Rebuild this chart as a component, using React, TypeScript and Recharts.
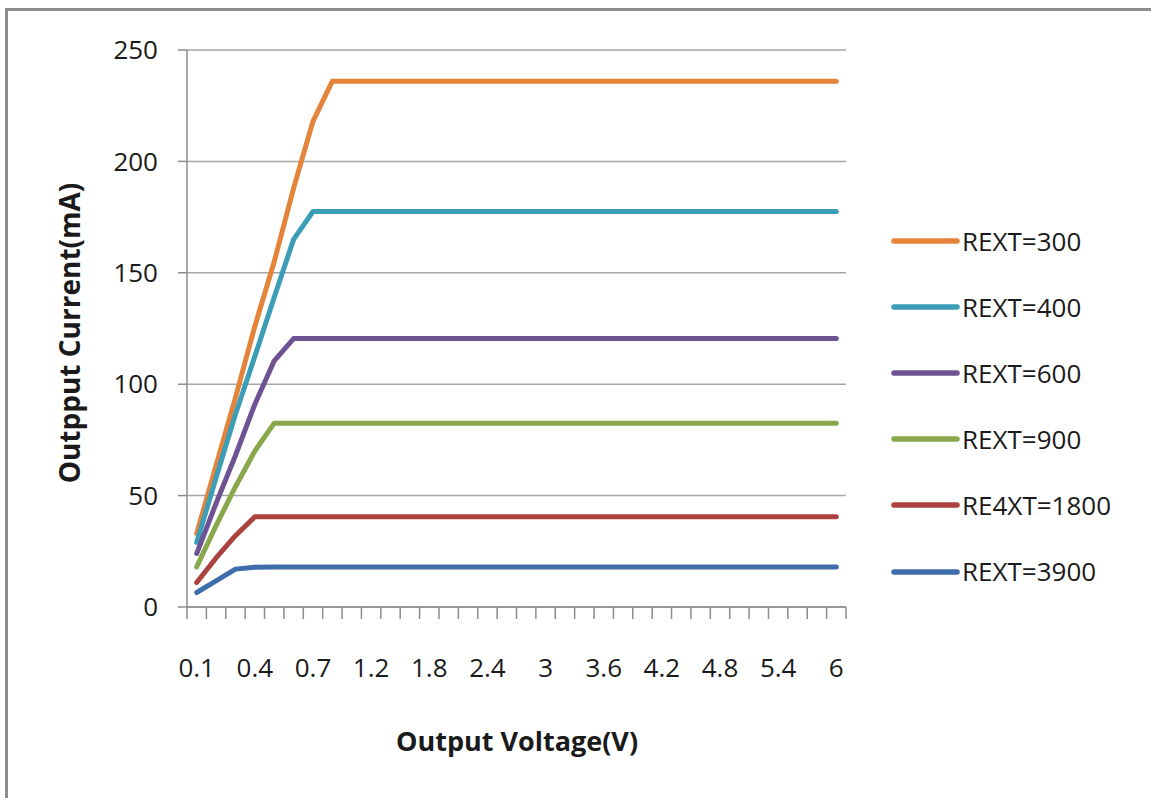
import { LineChart, Line, XAxis, YAxis, CartesianGrid } from "recharts";

// output voltage categories (V)
const categories = [
  "0.1", "0.2", "0.3", "0.4", "0.5", "0.6", "0.7", "0.8", "1", "1.2", "1.4", "1.6",
  "1.8", "2", "2.2", "2.4", "2.6", "2.8", "3", "3.2", "3.4", "3.6", "3.8", "4",
  "4.2", "4.4", "4.6", "4.8", "5", "5.2", "5.4", "5.6", "5.8", "6",
];

// output current (mA) per REXT
const rext300 = [
  33, 63.5, 94, 126, 155, 188, 218, 236, 236, 236, 236, 236,
  236, 236, 236, 236, 236, 236, 236, 236, 236, 236, 236, 236,
  236, 236, 236, 236, 236, 236, 236, 236, 236, 236,
];
const rext400 = [
  29, 58, 86.5, 112.5, 139, 165, 177.5, 177.5, 177.5, 177.5, 177.5, 177.5,
  177.5, 177.5, 177.5, 177.5, 177.5, 177.5, 177.5, 177.5, 177.5, 177.5, 177.5, 177.5,
  177.5, 177.5, 177.5, 177.5, 177.5, 177.5, 177.5, 177.5, 177.5, 177.5,
];
const rext600 = [
  24, 46.5, 68, 91, 110.5, 120.5, 120.5, 120.5, 120.5, 120.5, 120.5, 120.5,
  120.5, 120.5, 120.5, 120.5, 120.5, 120.5, 120.5, 120.5, 120.5, 120.5, 120.5, 120.5,
  120.5, 120.5, 120.5, 120.5, 120.5, 120.5, 120.5, 120.5, 120.5, 120.5,
];
const rext900 = [
  18, 36.5, 54, 70, 82.5, 82.5, 82.5, 82.5, 82.5, 82.5, 82.5, 82.5,
  82.5, 82.5, 82.5, 82.5, 82.5, 82.5, 82.5, 82.5, 82.5, 82.5, 82.5, 82.5,
  82.5, 82.5, 82.5, 82.5, 82.5, 82.5, 82.5, 82.5, 82.5, 82.5,
];
const rext1800 = [
  11, 22, 32, 40.5, 40.5, 40.5, 40.5, 40.5, 40.5, 40.5, 40.5, 40.5,
  40.5, 40.5, 40.5, 40.5, 40.5, 40.5, 40.5, 40.5, 40.5, 40.5, 40.5, 40.5,
  40.5, 40.5, 40.5, 40.5, 40.5, 40.5, 40.5, 40.5, 40.5, 40.5,
];
const rext3900 = [
  6.5, 11.7, 17, 17.8, 18, 18, 18, 18, 18, 18, 18, 18,
  18, 18, 18, 18, 18, 18, 18, 18, 18, 18, 18, 18,
  18, 18, 18, 18, 18, 18, 18, 18, 18, 18,
];

const seriesNames = ["REXT=300", "REXT=400", "REXT=600", "REXT=900", "RE4XT=1800", "REXT=3900"];
const seriesValues = [rext300, rext400, rext600, rext900, rext1800, rext3900];
const seriesColors = ["#E4843A", "#3C9DB6", "#6D5394", "#88A84B", "#AC423F", "#3F6DAB"];

const yTicks = [0, 50, 100, 150, 200, 250];
const labelEvery = 3;

const W = 1151;
const H = 798;
const PLOT_LEFT = 187;
const PLOT_RIGHT = 846;
const PLOT_TOP = 50;
const PLOT_BOTTOM = 607;
const STEP = (PLOT_RIGHT - PLOT_LEFT) / categories.length;
const FONT = "'Open Sans', sans-serif";
const AXIS_GRAY = "#8C8C8C";

const data = categories.map((c, i) => {
  const row: Record<string, string | number> = { v: c };
  seriesNames.forEach((n, k) => {
    row[n] = seriesValues[k][i];
  });
  return row;
});

const XTick = (props: any) => {
  const { x, y, payload, index } = props;
  const half = STEP / 2;
  return (
    <g>
      <line x1={x - half} x2={x - half} y1={y} y2={y + 12} stroke={AXIS_GRAY} strokeWidth={1.5} />
      {index === categories.length - 1 && (
        <line x1={x + half} x2={x + half} y1={y} y2={y + 12} stroke={AXIS_GRAY} strokeWidth={1.5} />
      )}
      {index % labelEvery === 0 && (
        <text x={x} y={y + 70} textAnchor="middle" fontFamily={FONT} fontSize={26} fill="#1a1a1a">
          {payload.value}
        </text>
      )}
    </g>
  );
};

// legend kept outside the chart so it does not shrink the plot area
const LegendBox = () => (
  <div style={{ position: "absolute", left: 890, top: 208 }}>
    {seriesNames.map((n, k) => (
      <div key={n} style={{ display: "flex", alignItems: "center", height: 66.1 }}>
        <svg width={72} height={10}>
          <line x1={4} x2={67} y1={5} y2={5} stroke={seriesColors[k]} strokeWidth={5.5} strokeLinecap="round" />
        </svg>
        <span style={{ fontFamily: FONT, fontSize: 26, color: "#1a1a1a", lineHeight: "27px" }}>{n}</span>
      </div>
    ))}
  </div>
);

export default function App() {
  return (
    <div style={{ position: "absolute", left: 0, top: 0, width: W, height: H, background: "#fff" }}>
      <div
        style={{
          position: "absolute",
          left: 5,
          top: 8,
          right: 0,
          bottom: 0,
          borderTop: `3px solid ${AXIS_GRAY}`,
          borderLeft: `3px solid ${AXIS_GRAY}`,
        }}
      />
      <div style={{ position: "absolute", left: 0, top: 0 }}>
        <LineChart
          width={W}
          height={H}
          data={data}
          margin={{ top: PLOT_TOP, right: W - PLOT_RIGHT, bottom: H - PLOT_BOTTOM - 60, left: PLOT_LEFT - 60 }}
        >
          <CartesianGrid vertical={false} stroke="#A6A6A6" strokeWidth={1.5} />
          <XAxis
            dataKey="v"
            type="category"
            interval={0}
            height={60}
            tickSize={0}
            tickMargin={0}
            tickLine={false}
            axisLine={{ stroke: AXIS_GRAY, strokeWidth: 1.5 }}
            padding={{ left: STEP / 2, right: STEP / 2 }}
            tick={<XTick />}
            label={{
              content: () => (
                <text
                  x={517}
                  y={740}
                  textAnchor="middle"
                  dominantBaseline="central"
                  fontFamily={FONT}
                  fontWeight="bold"
                  fontSize={27}
                  fill="#1a1a1a"
                >
                  Output Voltage(V)
                </text>
              ),
            }}
          />
          <YAxis
            width={60}
            domain={[0, 250]}
            ticks={yTicks}
            interval={0}
            tickSize={9}
            tickMargin={20}
            tickLine={{ stroke: AXIS_GRAY, strokeWidth: 1.5 }}
            axisLine={{ stroke: AXIS_GRAY, strokeWidth: 1.5 }}
            tick={{ fontFamily: FONT, fontSize: 26, fill: "#1a1a1a" }}
            label={{
              content: () => (
                <text
                  x={69}
                  y={333}
                  transform="rotate(-90 69 333)"
                  textAnchor="middle"
                  dominantBaseline="central"
                  fontFamily={FONT}
                  fontWeight="bold"
                  fontSize={28}
                  fill="#1a1a1a"
                >
                  Outpput Current(mA)
                </text>
              ),
            }}
          />
          {seriesNames.map((n, k) => (
            <Line
              key={n}
              dataKey={n}
              name={n}
              type="linear"
              stroke={seriesColors[k]}
              strokeWidth={5}
              strokeLinejoin="round"
              strokeLinecap="round"
              dot={false}
              activeDot={false}
              isAnimationActive={false}
            />
          ))}
        </LineChart>
      </div>
      <LegendBox />
    </div>
  );
}
